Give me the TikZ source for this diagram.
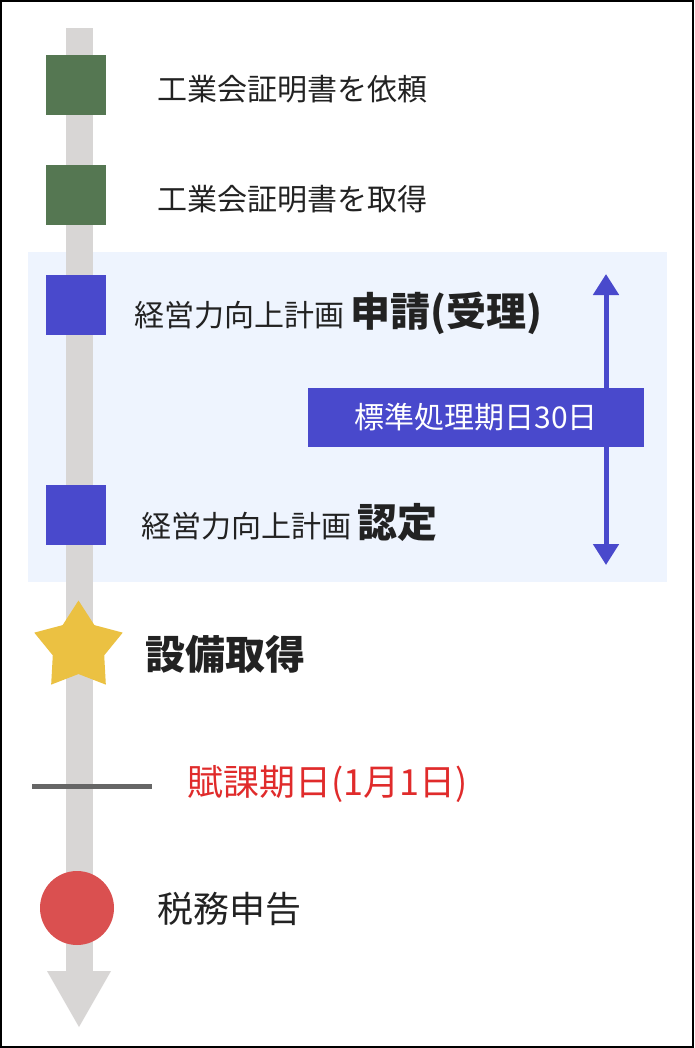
\documentclass[tikz,border=0pt]{standalone}
\usepackage{fontspec}
\setmainfont{Noto Sans CJK JP}
\usetikzlibrary{shapes.geometric,arrows.meta}
\definecolor{bargray}{HTML}{D8D6D5}
\definecolor{sqgreen}{HTML}{557752}
\definecolor{sqblue}{HTML}{4949CC}
\definecolor{bgblue}{HTML}{EEF4FE}
\definecolor{staryellow}{HTML}{EBC142}
\definecolor{dotred}{HTML}{DA5050}
\definecolor{txtred}{HTML}{E02B2B}
\definecolor{txtdark}{HTML}{222222}
\definecolor{linegray}{HTML}{666666}
\tikzset{
  sq/.style={minimum size=60pt, inner sep=0pt},
  lbl/.style={anchor=west, inner sep=0pt, text=txtdark, font=\fontsize{30}{36}\selectfont},
  bigb/.style={font=\fontsize{40}{48}\selectfont\bfseries},
}
\begin{document}
\begin{tikzpicture}[x=1pt,y=-1pt]
\useasboundingbox (0,0) rectangle (694,1048);
\fill[white] (0,0) rectangle (694,1048);
\fill[bgblue] (28,252) rectangle (667,582);
% timeline bar
\fill[bargray] (65.5,28) rectangle (92.5,972);
\fill[bargray] (47,971) -- (111,971) -- (79,1027) -- cycle;
% markers
\node[sq, fill=sqgreen] (m1) at (76,85) {};
\node[sq, fill=sqgreen] (m2) at (76,195) {};
\node[sq, fill=sqblue] (m3) at (76,305) {};
\node[sq, fill=sqblue] (m4) at (76,515) {};
\node[star, star points=5, star point ratio=1.72, minimum size=93pt, inner sep=0pt, fill=staryellow] (m5) at (78.5,647) {};
\coordinate (g1) at (32,786.7);
\coordinate (g2) at (152,786.7);
\draw[linegray, line width=5pt] (g1) -- (g2);
\node[circle, minimum size=74pt, inner sep=0pt, fill=dotred] (m6) at (77,908) {};
% labels
\node[lbl] (t1) at (157,89) {工業会証明書を依頼};
\node[lbl] (t2) at (157,199) {工業会証明書を取得};
\node[lbl] (t3) at (134,313) {経営力向上計画 {\fontsize{40}{48}\selectfont\bfseries 申請(受理)}};
\node[lbl] (t4) at (141,522) {経営力向上計画 {\fontsize{40}{48}\selectfont\bfseries 認定}};
\node[lbl, bigb] (t5) at (145,654) {設備取得};
\node[lbl, text=txtred, font=\fontsize{36}{42}\selectfont] (t6) at (187,784) {賦課期日(1月1日)};
\node[lbl, font=\fontsize{36}{42}\selectfont] (t7) at (157,909) {税務申告};
% span arrow
\coordinate (a1) at (606,274);
\coordinate (a2) at (606,565);
\draw[sqblue, line width=5pt, {Triangle[width=25pt,length=21pt]}-{Triangle[width=25pt,length=21pt]}] (a1) -- (a2);
\node[fill=sqblue, minimum width=336pt, minimum height=59pt, inner sep=0pt, text=white, font=\fontsize{30}{36}\selectfont] (box) at (476,417.5) {標準処理期日30日};
% frame
\draw[line width=2pt] (1,1) rectangle (693,1047);
\end{tikzpicture}
\end{document}
